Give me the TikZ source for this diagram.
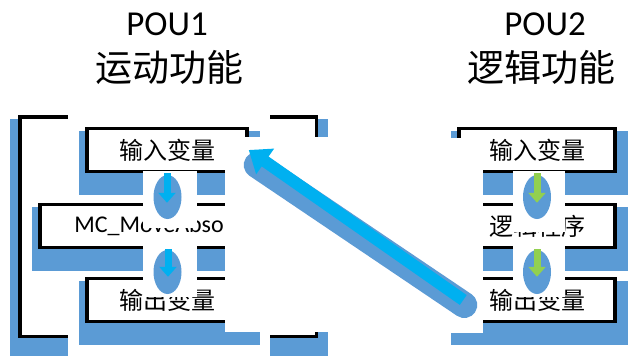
\documentclass[tikz,border=0pt]{standalone}
\usepackage{fontspec}
\setmainfont{Carlito}
\newfontfamily\cjk{Noto Sans CJK SC}
\usepackage{xcolor}
\usetikzlibrary{arrows.meta,calc,backgrounds}
\definecolor{shadowblue}{HTML}{5B9BD5}
\definecolor{flowblue}{HTML}{00B0F0}
\definecolor{flowgreen}{HTML}{92D050}

\begin{document}
\begin{tikzpicture}[x=1pt, y=-1pt]
	\tikzstyle{block}=[draw=black, fill=white, line width=3.5pt, minimum height=43pt, inner sep=0pt, font=\fontsize{24}{28}\selectfont]
	\tikzstyle{title}=[inner sep=0pt, font=\fontsize{35}{40}\selectfont]
	\tikzstyle{blank}=[fill=white]
	\tikzstyle{flow}=[line width=7pt, -{Triangle[length=10pt, width=17pt]}]
	\tikzstyle{bigflow}=[flowblue, line width=12pt, -{Triangle[length=20pt, width=30pt]}]

	\useasboundingbox (0, 0) rectangle (635, 356);

	\draw node[title] at (167, 24) (pou1) {POU1};
	\draw node[title] at (169, 67) (motion) {\cjk\fontsize{37}{40}\selectfont 运动功能};
	\draw node[title] at (545, 24) (pou2) {POU2};
	\draw node[title] at (541, 67) (logic) {\cjk\fontsize{37}{40}\selectfont 逻辑功能};

	% POU1
	\draw node[block, minimum width=160pt] at (167, 150) (in1) {\cjk 输入变量};
	\draw node[block, minimum width=256pt] at (168, 226) (mc) {MC\_MoveAbsolute};
	\draw node[block, minimum width=160pt] at (167, 300) (out1) {\cjk 输出变量};

	% POU2
	\draw node[block, minimum width=156pt] at (537, 150) (in2) {\cjk 输入变量};
	\draw node[block, minimum width=156pt] at (537, 226) (prog) {\cjk 逻辑程序};
	\draw node[block, minimum width=156pt] at (537, 300) (out2) {\cjk 输出变量};

	\begin{scope}[on background layer]
		\fill[shadowblue] (10, 119) rectangle (328, 356);
		\draw[line width=3.5pt, fill=white] (19.75, 116.75) rectangle (316.25, 336.25);
		\fill[blank] (68, 105) rectangle (270, 125);
		\fill[blank] (68, 330) rectangle (270, 356);
		\foreach \b in {in1, mc, out1, in2, prog, out2}
			\fill[shadowblue] ([shift={(-6, 4)}]\b.north west) rectangle ([shift={(11, 22)}]\b.south east);
	\end{scope}

	% blank patches
	\fill[blank] (225, 137) rectangle (335, 332);
	\fill[blank] (143, 171) rectangle (197, 228);
	\fill[blank] (143, 246) rectangle (197, 297);
	\fill[blank] (435, 138) rectangle (483, 333);
	\fill[blank] (513, 171) rectangle (565, 232);
	\fill[blank] (513, 246) rectangle (565, 297);

	\foreach \a/\b/\c in {in1/mc/flowblue, mc/out1/flowblue, in2/prog/flowgreen, prog/out2/flowgreen} {
		\fill[shadowblue] ($(\a.south)!0.5!(\b.north) + (0, 9)$) ellipse (14pt and 22pt);
		\draw[flow, \c] (\a.south) -- (\a.south |- \b.north);
	}

	\draw[shadowblue, line width=26pt, line cap=round] ([shift={(7, 5)}]out2.west) -- ([shift={(8, 15)}]in1.east);
	\draw[bigflow] ([xshift=6pt]out2.west) -- (in1.east);
\end{tikzpicture}
\end{document}
